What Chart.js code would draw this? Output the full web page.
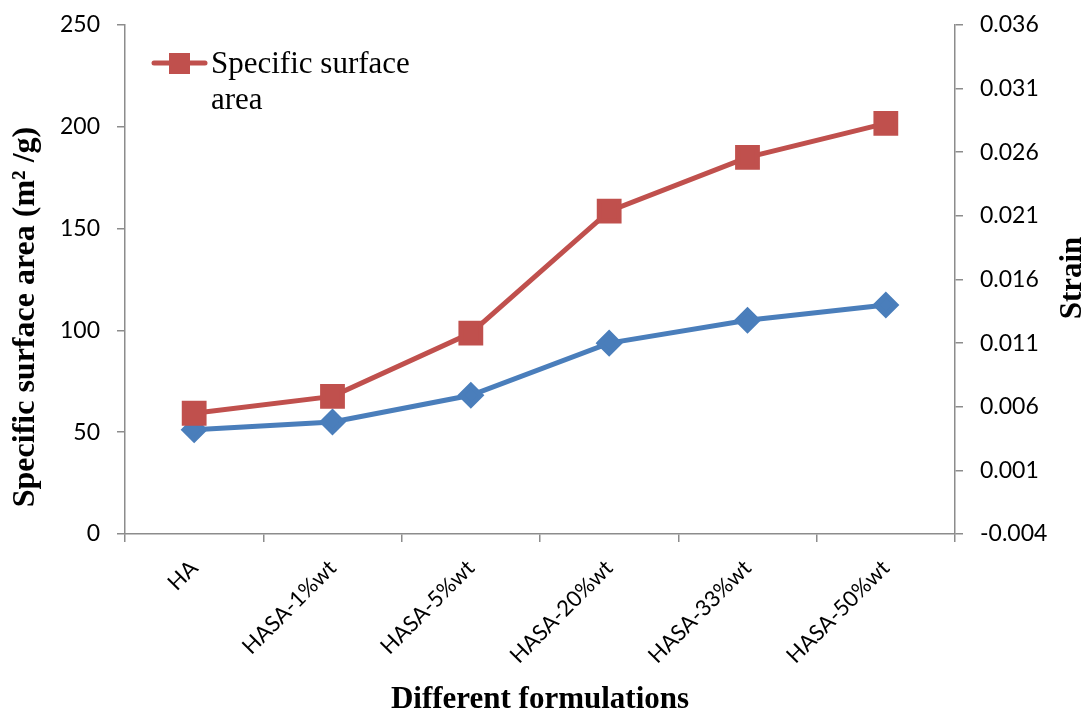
<!DOCTYPE html>
<html>
<head>
<meta charset="utf-8">
<script src="https://cdn.jsdelivr.net/npm/chart.js@4"></script>
<style>
  html, body { margin: 0; padding: 0; background: #fff; }
  #wrap { width: 1084px; height: 716px; }
</style>
</head>
<body>
<div id="wrap"><canvas id="chart" width="1084" height="716"></canvas></div>
<script>
const formulations = ['HA', 'HASA-1%wt', 'HASA-5%wt', 'HASA-20%wt', 'HASA-33%wt', 'HASA-50%wt']
const surfaceArea = [59.3, 67.6, 98.7, 158.6, 185.0, 201.7]   // m2/g, left axis
const strain = [0.0042, 0.0048, 0.0069, 0.0110, 0.0128, 0.0140] // right axis
const areaTicks = [0, 50, 100, 150, 200, 250]
const strainTicks = [-0.004, 0.001, 0.006, 0.011, 0.016, 0.021, 0.026, 0.031, 0.036]

const xTitle = 'Different formulations'
const yTitle = 'Specific surface area (m² /g)'
const y2Title = 'Strain'
const legendLines = ['Specific surface', 'area']

const RED = '#C0504D'
const BLUE = '#4A7EBB'
const AXIS = '#8c8c8c'
const SANS = 'Lato, "Open Sans", sans-serif'
const SERIF = '"Liberation Serif", "Times New Roman", serif'

// legend inside the plot (red series only, text on two lines) + axis titles
const extras = {
  id: 'extras',
  afterDraw(chart) {
    const ctx = chart.ctx
    const ds = chart.data.datasets[0]
    const area = chart.chartArea
    const y = 63
    ctx.save()
    ctx.strokeStyle = ds.borderColor
    ctx.lineWidth = ds.borderWidth
    ctx.lineCap = 'round'
    ctx.beginPath()
    ctx.moveTo(154, y)
    ctx.lineTo(205, y)
    ctx.stroke()
    ctx.fillStyle = ds.backgroundColor
    ctx.fillRect(169, y - 10, 21, 21)
    ctx.fillStyle = '#000'
    ctx.font = '31px ' + SERIF
    ctx.textBaseline = 'alphabetic'
    ctx.fillText(legendLines[0], 211, 73)
    ctx.fillText(legendLines[1], 211, 109)

    ctx.font = 'bold 31px ' + SERIF
    ctx.textAlign = 'center'
    ctx.fillText(xTitle, (area.left + area.right) / 2, 708)

    ctx.save()
    ctx.translate(34, 317)
    ctx.rotate(-Math.PI / 2)
    ctx.font = 'bold 32px ' + SERIF
    ctx.fillText(yTitle, 0, 0)
    ctx.restore()

    ctx.save()
    ctx.translate(1081, 278)
    ctx.rotate(-Math.PI / 2)
    ctx.fillText(y2Title, 0, 0)
    ctx.restore()
    ctx.restore()
  }
}

// keep tick label overflow from pushing the plot area down
const noPad = scale => { scale.paddingTop = 0; scale.paddingBottom = 0 }

new Chart(document.getElementById('chart'), {
  type: 'line',
  data: {
    labels: formulations,
    datasets: [
      {
        label: 'Specific surface area',
        data: surfaceArea,
        yAxisID: 'y',
        borderColor: RED,
        backgroundColor: RED,
        borderWidth: 5,
        pointStyle: 'rect',
        pointRadius: 14,
        pointHoverRadius: 14,
        tension: 0
      },
      {
        label: 'Strain',
        data: strain,
        yAxisID: 'y2',
        borderColor: BLUE,
        backgroundColor: BLUE,
        borderWidth: 5,
        pointStyle: 'rectRot',
        pointRadius: 10,
        pointHoverRadius: 10,
        tension: 0
      }
    ]
  },
  options: {
    responsive: false,
    animation: false,
    layout: { padding: { top: 25, left: 0, right: 0, bottom: 0 } },
    plugins: {
      legend: { display: false },
      tooltip: { enabled: false }
    },
    scales: {
      x: {
        offset: true,
        grid: { offset: true, drawOnChartArea: false, color: AXIS, tickLength: 8, lineWidth: 1.5 },
        border: { color: AXIS, width: 1.5 },
        ticks: { color: '#000', font: { family: SANS, size: 22 }, minRotation: 45, maxRotation: 45, padding: 13 },
        afterFit(scale) { scale.height = 182 }
      },
      y: {
        position: 'left',
        min: 0,
        max: 250,
        afterBuildTicks(scale) { scale.ticks = areaTicks.map(v => ({ value: v })) },
        grid: { drawOnChartArea: false, color: AXIS, tickLength: 8, lineWidth: 1.5 },
        border: { color: AXIS, width: 1.5 },
        ticks: { color: '#000', font: { family: SANS, size: 23 }, padding: 17 },
        afterFit(scale) { scale.width = 125; noPad(scale) }
      },
      y2: {
        position: 'right',
        min: -0.004,
        max: 0.036,
        afterBuildTicks(scale) { scale.ticks = strainTicks.map(v => ({ value: v })) },
        grid: { drawOnChartArea: false, color: AXIS, tickLength: 8, lineWidth: 1.5 },
        border: { color: AXIS, width: 1.5 },
        ticks: { color: '#000', font: { family: SANS, size: 23 }, padding: 17, callback: v => v.toFixed(3) },
        afterFit(scale) { scale.width = 129; noPad(scale) }
      }
    }
  },
  plugins: [extras]
})
</script>
</body>
</html>
